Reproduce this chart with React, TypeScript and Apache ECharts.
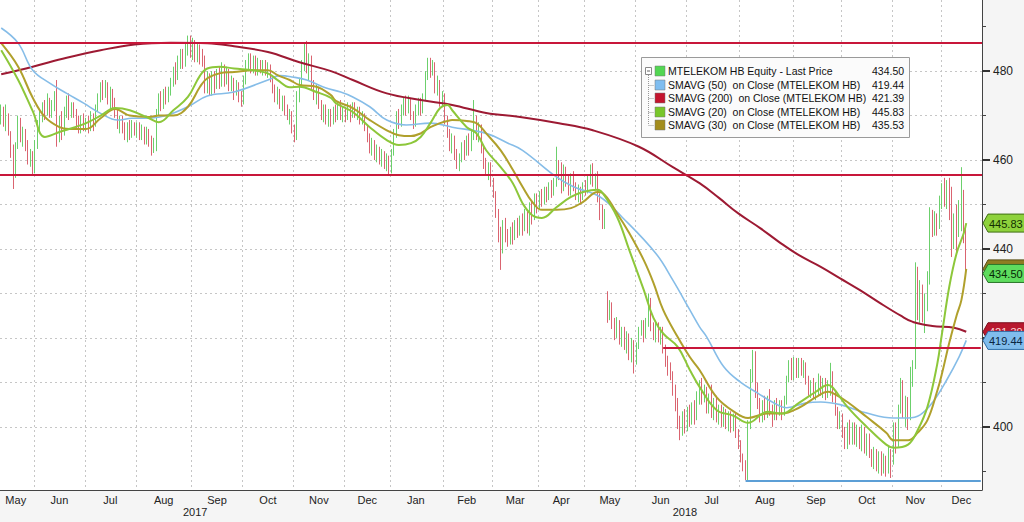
import React, { useEffect, useRef } from "react";
import * as echarts from "echarts";

// ---------- categories (trading days, Budapest exchange) ----------
const firstDay = "2017-05-12";
const lastDay = "2018-12-28";
const holidays = [
  "2017-06-05", "2017-10-23", "2017-11-01", "2017-12-25", "2017-12-26",
  "2018-01-01", "2018-03-15", "2018-03-16", "2018-03-30", "2018-04-02", "2018-04-30",
  "2018-05-01", "2018-05-21", "2018-08-20", "2018-10-22", "2018-10-23", "2018-11-01",
  "2018-11-02", "2018-12-24", "2018-12-25", "2018-12-26",
];
const monthNames = ["Jan", "Feb", "Mar", "Apr", "May", "Jun", "Jul", "Aug", "Sep", "Oct", "Nov", "Dec"];

// ---------- price bars [open, close, low, high] ----------
const bars2017May = [[470,471,468,472.5],[471,469,467.5,472],[468,471.5,466.5,472.5],[470,467,465.5,470.5],[466,462,460.5,466.5],[462,456,453.5,463.5],[457,463,456,464],[463,468.5,462.5,470],[468,465,464,469.5],[465,466,463,467.5],[466,462.5,462,467],[463,460,459,464.5],[460,461,458.5,462.5],[461,457.5,456.6,462]];
const bars2017Jun = [[458,463.5,457,464.5],[463,468,462.5,469],[468,470,466,471],[470,472,468.5,473],[472,470.5,469,473.5],[470.5,473.5,470,475],[473,471,469.5,474],[471,472.5,469.5,473.5],[472.5,474,471,475.5],[474,466,463,478],[466,468.5,464,470],[468.5,466,464.5,471],[466,470.5,465.5,472],[470.5,473.5,469.5,474.5],[473,470,469,475],[470,472,469.5,473],[472,470.5,469.5,473],[470,468,467,471.5],[468,466.5,466,470],[466.5,469,466,470],[469,467.5,466.5,470.5]];
const bars2017Jul = [[467.5,468.5,466.5,469.5],[468.5,467,466,470],[467,469.5,466.5,471],[469.5,468,466.5,470.5],[468,471.5,467.5,472.5],[471.5,474,471,475],[474,476.5,473,477.5],[476.5,475,473.5,478],[475,477,474,478],[477,474,472.5,477.5],[474,475.5,471.5,476.5],[475.5,472.5,471.5,476],[472.5,470,469.5,474],[470,468,467,471.5],[468,469.5,466,470],[469.5,467,466,470],[467,465.5,464.5,468.5],[465.5,467.5,464,468.5],[467.5,466,464.5,469],[466,467.5,465,469],[467.5,466.5,465.5,468.5]];
const bars2017Aug = [[466.5,468,465,468.5],[468,466,464.5,468.5],[466,467,464.5,468],[467,465,463.5,467.5],[465,466.5,463.5,467.5],[466.5,464,463,467],[464,462.5,461,465.5],[462.5,463.5,461.6,465],[463,470.5,462,471.5],[470.5,474,470,475],[474,472.5,471,475.5],[472.5,475,471.5,476],[475,473.5,472.5,476.5],[473.5,475.5,473,476.5],[475.5,477.5,474.5,478.5],[477.5,480,476.5,481],[480,478.5,477,482],[478.5,482,478,483.5],[482,484,480.5,485],[484,481.5,480.5,485],[481.5,485,481,486.5],[485,487,483.5,488],[487,485,483,488]];
const bars2017Sep = [[485,486.5,482.5,487.5],[486.5,483.5,482,487],[483.5,485.5,482,486.5],[485.5,484,481.5,486],[484,482,481,485],[482,476,475,483.5],[476,478.5,475,480],[478.5,475.5,474.5,479.5],[475.5,479,474.5,480],[479,477,475,480],[477,479.5,476,480.5],[479.5,477,476,481],[477,480.5,476.5,482],[480.5,478,476.5,481.5],[478,479.5,477,481],[479.5,476.5,475.5,480.5],[476.5,478,475.5,479],[478,475.5,473.5,478.5],[475.5,477,474.5,478],[477,474,473,477.5],[474,473,472,475.5]];
const bars2017Oct = [[473,478,472.5,479],[478,481,477,482.5],[481,483,480,484],[483,480.5,479.5,484],[480.5,482.5,479.5,483.5],[482.5,480,479,483.5],[480,482,479,483],[482,480,479.5,482.5],[480,481.5,479,482.5],[481.5,479.5,479,482.5],[479.5,481,478.5,482],[481,478,477.5,481.5],[478,476,475,479],[476,474,473,477],[474,475.5,472.5,476.5],[475.5,472.5,471.5,476],[472.5,473.5,471,474.5],[473.5,471,470,474.5],[471,469.5,469,472.5],[469.5,470.5,468,471.5],[470.5,467,466,471]];
const bars2017Nov = [[467,465,464,468],[465,474,464.5,475.5],[474,477.5,473,478.5],[477.5,481,476.5,482.5],[481,485,480,486.5],[485,480,479.5,486.8],[480,482.5,478,484],[482.5,477,476,483.5],[477,474.5,473.5,478],[474.5,476,472.5,477],[476,472.5,471.5,476.5],[472.5,470,469,473.5],[470,471.5,468.5,472.5],[471.5,469,468,472.5],[469,470.5,467.5,471.5],[470.5,468.5,467.5,471.5],[468.5,471,468,472],[471,469.5,468.5,472.5],[469.5,472,469,473],[472,470,469,473.5],[470,471,468.5,472]];
const bars2017Dec = [[471,469.5,468.5,472],[469.5,471.5,469,473],[471.5,470,468.5,472.5],[470,472,469.5,473],[472,470.5,469.5,473],[470.5,471,469,472],[471,469.5,468,472],[469.5,470,468,471],[470,467,466.5,470.5],[467,465,464,468],[465,462.5,461.5,466],[462.5,463.5,461,465],[463.5,461,460,464.5],[461,462.5,459.5,463.5],[462.5,460,459,463],[460,461.5,458.5,462.5],[461.5,459,458,462],[459,460,457.5,461.5],[460,457.5,456.6,461]];
const bars2018Jan = [[457.5,462,457,462.5],[462,466,461,467],[466,470,465,471],[470,468,467,471.5],[468,471.5,467.5,472.5],[471.5,473,470,474],[473,471,470,474.5],[471,473.5,470.5,474.5],[473.5,470,469,474],[470,468,467,471],[468,471.5,467.5,472.5],[471.5,473,470,474],[473,471,470,474],[471,474,470.5,475],[474,479,473.5,480],[479,482,478,483],[482,480,478.5,483],[480,481.5,479,482.5],[481.5,476,475,482],[476,477.5,474.5,479],[477.5,473,472,478],[473,474.5,472,475.5]];
const bars2018Feb = [[474.5,469,468,475],[469,466,465,470],[466,463,462,467],[463,465,461.5,466],[465,461,460,465.5],[461,459,458,462.5],[459,460.5,457.5,461.5],[460.5,463,459.5,464],[463,461.5,460,464.5],[461.5,464.5,461,465.5],[464.5,462.5,461,466],[462.5,466,462,467],[466,468,464.5,473.5],[468,465,464.5,470],[465,467,464,468.5],[467,462,461.5,468],[462,459.5,458,463],[459.5,457,456.5,460.5],[457,458.5,455.5,459.5],[458.5,455,454,459.5]];
const bars2018Mar = [[455,452.5,451.5,456],[452.5,448,447,453],[448,443,441.5,449],[443,440,435.3,445],[440,445,439,446.5],[445,443,441.5,447],[443,441.5,440.5,444.5],[441.5,444,441,445],[444,442.5,441,446],[442.5,445.5,442,446.5],[445.5,443.5,442.5,447],[443.5,446,443,447.5],[446,444.5,443,448],[444.5,447.5,444,449],[447.5,445,443.5,448.5],[445,449,443,450.5],[449,447,445.5,451],[447,451,446.5,452.5],[451,449.5,448,452.5]];
const bars2018Apr = [[449.5,452,449,453],[452,450.5,449.5,453.5],[450.5,453,450,454],[453,451.5,450.5,454],[451.5,454,451,455],[454,452.5,451.5,455.5],[452.5,455,452,456],[455,458,454,463],[458,456.5,455.5,460],[456.5,453.5,452.5,459.5],[453.5,457.5,453,459],[457.5,455,454,458.5],[455,452.5,452,456.5],[452.5,456,452,457],[456,454,453,457.5],[454,451.5,451,455],[451.5,453,450.5,454.5],[453,451.5,450,454],[451.5,454,451,455]];
const bars2018May = [[454,453,452,455.5],[453,455.5,452.5,456.5],[455.5,457.5,454.5,459],[457.5,454.5,454,459.3],[454.5,456,453.5,457],[456,451.5,450.5,457.5],[451.5,448,446.5,452.5],[448,446,444.5,450],[446,447.5,444.5,449],[430,425,423.4,430.5],[425,427.5,424,428.5],[427.5,423,422,428],[423,421,419.5,424.5],[421,423.5,420,424.7],[423.5,420,418.5,424],[420,421.5,418,422.5],[421.5,418.5,417.3,422.5],[418.5,420.5,416.5,421.5],[420.5,417,415,421],[417,419,414.5,420],[419,415,412,419.5]];
const bars2018Jun = [[415,418,414,419],[418,421.5,417.5,422.5],[421.5,423,420.5,424],[423,420.5,419,424],[420.5,423.5,420,424.5],[423.5,428,422.5,430],[428,423,421.5,429],[423,421,419.5,423.5],[421,422.5,419,423.5],[422.5,420,419,423.5],[420,421.5,418.5,422.5],[421.5,417.5,416.5,422.5],[417.5,415,413.5,418.5],[415,413,411.5,416],[413,411.5,410.5,414.5],[411.5,408,407,412.5],[408,405,403.5,409.5],[405,401,399.5,406.5],[401,398.5,397,402.5],[398.5,402,398,403.5],[402,399.5,398.5,404]];
const bars2018Jul = [[399.5,403,399,404.5],[403,401,400,405],[401,404.5,400.5,405.5],[404.5,402,400.5,406],[402,406,401.5,408],[406,409.5,405,410.5],[409.5,406.5,405,411],[406.5,408,405.5,409.5],[408,404,403,409],[404,406.5,403,407.5],[406.5,403,402,409.5],[403,405.5,401.5,406.5],[405.5,402,401,407],[402,404,400.5,405],[404,401.5,400,405],[401.5,403,400,404.5],[403,400.5,399.5,404],[400.5,402.5,399,403.5],[402.5,400,398.7,403.5],[400,402,399,403],[402,398.5,397.5,403],[398.5,396,395,399.5]];
const bars2018Aug = [[396,393,392,397],[393,391,390,394],[391,389.5,388,392.5],[389.5,400,388,401.5],[400,412,399.5,413],[412,415.5,410,417.3],[415.5,409,406.5,417],[409,405,404,410],[405,402,401,406.5],[402,405,401,406],[405,403,401.5,407],[403,406,402,407],[406,404,402.5,408.5],[404,402.5,400,405],[402.5,405,401.5,406],[405,403,401.5,406.5],[403,405,402.5,406],[405,403.5,401.5,406],[403.5,405.5,402.5,407],[405.5,410.5,405,411.5],[410.5,413.5,410,415],[413.5,411.5,410.5,415.5]];
const bars2018Sep = [[411.5,414,410.5,415.7],[414,412,411,415.5],[412,414.5,411,415.5],[414.5,412.5,411.5,415.5],[412.5,414,411,415],[414,410.5,409.5,414.5],[410.5,408,407,411.5],[408,409.5,406.5,410.5],[409.5,407,406.5,411],[407,409,406,410],[409,410.5,407,412],[410.5,408,407,411.5],[408,410,406.5,411],[410,407.5,406,411],[407.5,409.5,406.5,410.5],[409.5,411.5,407,414.4],[411.5,407,405.5,412.5],[407,403.5,402.5,408],[403.5,401,399.5,404.5],[401,402.5,399.5,403.5]];
const bars2018Oct = [[402.5,398.5,397.5,403],[398.5,396.5,395,400],[396.5,399.5,395,401],[399.5,397,396,401.6],[397,400,396,401],[400,397.5,396,401],[397.5,399,395.5,400.5],[399,396.5,395,400],[396.5,399,394.5,400.5],[399,395.5,394,400],[395.5,397.5,393.5,398.5],[397.5,394,393,398.5],[394,392,391,395],[392,394,390.5,395.5],[394,391.5,390,395],[391.5,393.5,389.5,394.5],[393.5,390.5,389,394.5],[390.5,393,389.5,394],[393,390,388.8,393.5],[390,394,389.5,395.5],[394,392,388.5,395]];
const bars2018Nov = [[392,399,391.5,401],[399,396,394,401],[396,404,395.5,405],[404,409.5,403,411],[409.5,403,402,410.5],[403,406,400,407],[406,402,399.3,406.7],[402,410,401.5,413.5],[410,414,409,415],[414,434,413,437],[434,426,424,436],[426,431,423.4,433],[431,425,423.5,432],[425,428.5,421.1,430],[428.5,433,426,435],[433,447,432,449.4],[447,444,442.7,448.8],[444,447,443,448.5],[447,445,443,448],[445,450,444.5,452]];
const bars2018Dec = [[450,453.5,449,454.8],[453.5,451,449.5,456],[451,454,449,455.5],[454,450.5,446.5,456],[450.5,441,438.2,454],[441,446,440,448],[446,443,439,450],[443,449,442.7,451],[449,451,444,458.4],[451,444,441.3,453.3],[444,434.5,434,445]];

// ---------- moving averages, read as [trading-day index, value] ----------
const sma200 = [[0,479.3],[13,481],[27,483],[41,484.7],[55,486],[70,486.4],[85,486.3],[96,485.6],[110,484.3],[123,482],[136,480],[145,478],[159,475],[173,473.5],[186,472.4],[200,470.6],[214,469.7],[230,468.3],[244,466.7],[263,463],[277,458.4],[288,454.8],[296,451.5],[304,448],[313,444.7],[321,441.5],[329,438.6],[338,436],[346,433.4],[354,430.8],[362,428],[371,425],[376,423.6],[384,422.7],[393,422.3],[398,421.39]];
const sma50 = [[0,489.7],[7,486.3],[13,480.2],[20,477.3],[27,475],[34,472.8],[41,470.5],[48,469],[54,469.4],[61,469.4],[68,470],[77,472],[85,474.4],[96,475.3],[110,478],[115,479],[120,478.7],[126,478],[134,476.2],[140,475.3],[145,474.2],[152,472],[159,469],[167,467.9],[177,468.3],[186,467.4],[200,466],[209,463.8],[215,462.2],[229,456.2],[236,454],[247,451.7],[256,447.2],[270,439],[277,433],[284,426.3],[288,422.5],[291,420.2],[298,413.5],[305,410],[312,407.6],[318,405.6],[324,404.3],[332,405.4],[338,405.6],[346,405],[357,403.1],[368,402],[374,402],[379,402.7],[384,405.4],[390,410.6],[395,415.7],[398,419.44]];
const sma20 = [[0,484.7],[7,478],[13,471],[18,465.2],[24,466.3],[28,467],[35,468.3],[41,470],[47,471.7],[53,471.2],[61,469.4],[65,468.5],[71,471.2],[77,474.2],[82,479],[85,480.6],[90,481],[96,480.6],[104,480.2],[110,479.5],[114,478],[119,476.4],[123,476.5],[130,475.3],[136,474],[138,472.8],[145,470.8],[152,467.4],[159,464.5],[164,463.4],[169,463.8],[173,465.2],[177,468.3],[181,471.7],[184,472.4],[186,471.2],[192,467.4],[196,466],[200,462.2],[206,458.4],[211,454.8],[215,450.3],[219,447.6],[223,447],[229,449.4],[235,451.7],[240,452.8],[246,453.3],[248,452.6],[254,447.2],[259,439.8],[265,430.8],[269,424.5],[273,421],[279,418],[284,412.8],[288,409],[295,403.8],[302,402.5],[308,400.9],[316,403.4],[322,403],[329,405.4],[336,407.9],[341,409.4],[343,408.8],[349,404.5],[357,400],[365,396],[368,395.3],[374,396],[378,399.3],[382,404.5],[386,414],[388,421],[391,431.5],[394,439],[397,443.6],[398,445.83]];
const sma30 = [[0,486.3],[7,481],[13,474],[18,469.7],[24,467.4],[28,467],[35,467],[41,469.4],[47,471.5],[53,470],[61,469.7],[65,470],[71,470],[77,472],[82,476.5],[85,478.4],[90,479.5],[96,479.8],[104,480.2],[110,480.2],[114,479.1],[119,478],[123,476.9],[130,476.5],[136,474.6],[138,473.3],[145,471.7],[152,469],[159,466.7],[164,465.6],[169,465.4],[173,466],[177,467.4],[181,468.3],[184,468.8],[186,469],[192,468.8],[196,468.3],[200,466],[206,462.2],[211,457.8],[215,454],[219,450.6],[223,448.8],[229,448.8],[235,449.2],[240,450.6],[246,452.8],[248,452.6],[254,448],[259,443.6],[265,437.5],[269,432.4],[273,426.3],[279,420.2],[284,415.7],[288,412.8],[295,406.7],[302,403.5],[308,402],[316,403],[322,403],[329,404.3],[336,406.7],[341,407.9],[343,407.6],[349,405.6],[357,402.2],[365,398.7],[368,397],[374,397],[378,398.7],[382,401.5],[386,408],[388,412],[391,418.9],[394,425],[396,428.5],[398,435.53]];

// ---------- reference levels ----------
const resistanceHigh = 486.3;
const resistanceMid = 456.6;
const supportLevel = 417.8;
const supportStartDay = "2018-06-18";
const floorLevel = 387.9;
const floorStartDay = "2018-08-03";

const legendNames = [
  "MTELEKOM HB Equity - Last Price",
  "SMAVG (50)  on Close (MTELEKOM HB)",
  "SMAVG (200)  on Close (MTELEKOM HB)",
  "SMAVG (20)  on Close (MTELEKOM HB)",
  "SMAVG (30)  on Close (MTELEKOM HB)",
];
const yLabelValues = [400, 420, 440, 460, 480];
const yMinorValues = [390, 400, 410, 420, 430, 440, 450, 460, 470, 480, 490];

const C = {
  up: "#6cd06c",
  down: "#da6470",
  sma50: "#86bde8",
  sma200: "#9d1a33",
  sma20: "#8dc73a",
  sma30: "#b0a02c",
  level: "#c8173a",
  floor: "#5c9fd6",
  grid: "#c6c6c6",
};

function buildDays(): string[] {
  const out: string[] = [];
  const d = new Date(firstDay + "T00:00:00Z");
  const end = new Date(lastDay + "T00:00:00Z").getTime();
  while (d.getTime() <= end) {
    const wd = d.getUTCDay();
    const s = d.toISOString().slice(0, 10);
    if (wd !== 0 && wd !== 6 && holidays.indexOf(s) < 0) out.push(s);
    d.setUTCDate(d.getUTCDate() + 1);
  }
  return out;
}

export default function App() {
  const ref = useRef<HTMLDivElement>(null);
  useEffect(() => {
    if (!ref.current) return;
    const chart = echarts.init(ref.current, undefined, { renderer: "svg" });
    const days = buildDays();
    const bars = [
      ...bars2017May, ...bars2017Jun, ...bars2017Jul, ...bars2017Aug, ...bars2017Sep,
      ...bars2017Oct, ...bars2017Nov, ...bars2017Dec, ...bars2018Jan, ...bars2018Feb,
      ...bars2018Mar, ...bars2018Apr, ...bars2018May, ...bars2018Jun, ...bars2018Jul,
      ...bars2018Aug, ...bars2018Sep, ...bars2018Oct, ...bars2018Nov, ...bars2018Dec,
    ];
    const lastIdx = days.length - 1;

    // month / year groupings
    const monthStart = new Set<number>();
    const monthMid = new Set<number>();
    const yearMid = new Set<number>();
    const yearStart = new Set<number>();
    const groupBy = (len: number, starts: Set<number>, mids: Set<number>) => {
      let s = 0;
      for (let i = 1; i <= days.length; i++) {
        if (i === days.length || days[i].slice(0, len) !== days[i - 1].slice(0, len)) {
          mids.add(Math.floor((s + i - 1) / 2));
          if (i < days.length) starts.add(i);
          s = i;
        }
      }
    };
    groupBy(7, monthStart, monthMid);
    groupBy(4, yearStart, yearMid);

    const supportStart = days.indexOf(supportStartDay);
    const floorStart = days.indexOf(floorStartDay);

    const option: any = {
      animation: false,
      backgroundColor: "#f5f5f5",
      textStyle: { fontFamily: "Liberation Sans, Arial, sans-serif" },
      grid: { left: 0, right: 42, top: 0, bottom: 32, show: true, backgroundColor: "#ffffff", borderWidth: 0 },
      xAxis: [
        {
          type: "category",
          data: days,
          boundaryGap: true,
          axisLine: { lineStyle: { color: "#444", width: 1 } },
          axisTick: { interval: (i: number) => monthStart.has(i), length: 4, lineStyle: { color: "#555" } },
          axisLabel: {
            interval: (i: number) => monthMid.has(i),
            formatter: (v: string) => monthNames[Number(v.slice(5, 7)) - 1],
            margin: 4,
            fontSize: 11,
            color: "#222",
          },
          splitLine: { show: true, interval: (i: number) => monthStart.has(i), lineStyle: { color: C.grid, type: [2, 3] } },
        },
        {
          type: "category",
          data: days,
          position: "bottom",
          offset: 13,
          axisLine: { show: false },
          axisTick: { interval: (i: number) => yearStart.has(i), length: 16, lineStyle: { color: "#777" } },
          axisLabel: {
            interval: (i: number) => yearMid.has(i),
            formatter: (v: string) => v.slice(0, 4),
            margin: 3,
            fontSize: 11,
            color: "#222",
          },
          splitLine: { show: false },
        },
      ],
      yAxis: [
        {
          type: "value",
          position: "right",
          min: 385.8,
          max: 496,
          axisLine: { show: true, lineStyle: { color: "#444" } },
          axisTick: { show: true, customValues: yMinorValues, length: 4, lineStyle: { color: "#444" } },
          axisLabel: { customValues: yLabelValues, margin: 11, fontSize: 12, color: "#222" },
          splitLine: { show: true, showMinLine: false, showMaxLine: false, lineStyle: { color: C.grid, type: [2, 3] } },
        },
        {
          type: "value",
          position: "right",
          min: 385.8,
          max: 496,
          axisLine: { show: false },
          axisTick: { show: true, customValues: yLabelValues, length: 8, lineStyle: { color: "#333", width: 2 } },
          axisLabel: { show: false },
          splitLine: { show: false },
        },
      ],
      series: [
        {
          name: "Last Price",
          type: "candlestick",
          data: bars,
          barWidth: 1,
          itemStyle: { color: C.up, color0: C.down, borderColor: C.up, borderColor0: C.down, borderWidth: 1 },
          z: 2,
        },
        {
          name: "SMAVG (200)", type: "line", data: sma200, smooth: 0.4, showSymbol: false,
          lineStyle: { color: C.sma200, width: 2 }, z: 3,
          markLine: {
            silent: true,
            symbol: ["none", "none"],
            label: { show: false },
            lineStyle: { color: C.level, width: 2, type: "solid" },
            data: [
              { yAxis: resistanceHigh },
              { yAxis: resistanceMid },
              [{ coord: [supportStart, supportLevel] }, { coord: [lastIdx, supportLevel] }],
              [{ coord: [floorStart, floorLevel], lineStyle: { color: C.floor, width: 2, type: "solid" } }, { coord: [lastIdx, floorLevel] }],
            ],
          },
        },
        { name: "SMAVG (50)", type: "line", data: sma50, smooth: 0.4, showSymbol: false, lineStyle: { color: C.sma50, width: 1.6 }, z: 3 },
        { name: "SMAVG (30)", type: "line", data: sma30, smooth: 0.4, showSymbol: false, lineStyle: { color: C.sma30, width: 2 }, z: 3 },
        { name: "SMAVG (20)", type: "line", data: sma20, smooth: 0.4, showSymbol: false, lineStyle: { color: C.sma20, width: 2 }, z: 3 },
      ],
    };
    chart.setOption(option);

    const lastPrice = bars[bars.length - 1][1];
    const last50 = sma50[sma50.length - 1][1];
    const last200 = sma200[sma200.length - 1][1];
    const last20 = sma20[sma20.length - 1][1];
    const last30 = sma30[sma30.length - 1][1];
    const legendValues = [lastPrice, last50, last200, last20, last30];
    const legendColors = ["#52d652", "#7fbdf0", "#c4142e", "#78c62a", "#a38c1c"];

    const g: any[] = [];
    // legend box
    const lx = 641, ly = 57, lw = 268, lh = 80;
    g.push({ type: "rect", shape: { x: lx + 0.5, y: ly + 0.5, width: lw, height: lh }, style: { fill: "#fbfbfb", stroke: "#9a9a9a", lineWidth: 1 }, z: 50 });
    const rowY = [71, 85, 98, 112, 125];
    g.push({ type: "rect", shape: { x: 645.5, y: 67.5, width: 6, height: 7 }, style: { fill: "#fff", stroke: "#888", lineWidth: 1 }, z: 51 });
    g.push({ type: "line", shape: { x1: 647, y1: 71, x2: 650, y2: 71 }, style: { stroke: "#666", lineWidth: 1 }, z: 52 });
    g.push({ type: "line", shape: { x1: 648.5, y1: 75, x2: 648.5, y2: 125 }, style: { stroke: "#999", lineWidth: 1, lineDash: [1, 1] }, z: 51 });
    rowY.forEach((y, k) => {
      if (k > 0) g.push({ type: "line", shape: { x1: 648.5, y1: y + 0.5, x2: 654, y2: y + 0.5 }, style: { stroke: "#999", lineWidth: 1, lineDash: [1, 1] }, z: 51 });
      g.push({ type: "rect", shape: { x: 655, y: y - 5, width: 10, height: 10 }, style: { fill: legendColors[k], stroke: "#777", lineWidth: 0.5 }, z: 51 });
      g.push({ type: "text", x: 668, y: y, style: { text: legendNames[k], fontSize: 10.5, fontFamily: "Liberation Sans", fill: "#111", verticalAlign: "middle", align: "left" }, z: 52 });
      g.push({ type: "text", x: 872, y: y, style: { text: legendValues[k].toFixed(2), fontSize: 10.5, fontFamily: "Liberation Sans", fill: "#111", verticalAlign: "middle", align: "left" }, z: 52 });
    });

    // last-value tags on the price axis
    const tags = [
      { v: last20, fill: "#8ed23c", stroke: "#3f6e12", text: "#133000" },
      { v: last30, fill: "#8e7d22", stroke: "#5a4f12", text: "#ffffff" },
      { v: lastPrice, fill: "#5edc5e", stroke: "#2a772a", text: "#062906" },
      { v: last200, fill: "#b8182e", stroke: "#7a0e1c", text: "#ffd6d6" },
      { v: last50, fill: "#80bcec", stroke: "#2f6ea8", text: "#0a2540" },
    ];
    tags.forEach((t, k) => {
      const y = chart.convertToPixel({ yAxisIndex: 0 }, t.v) as number;
      g.push({
        type: "polygon",
        shape: { points: [[983, y], [988, y - 9], [1030, y - 9], [1030, y + 9], [988, y + 9]] },
        style: { fill: t.fill, stroke: t.stroke, lineWidth: 1 },
        z: 100 + k * 2,
      });
      g.push({
        type: "text", x: 989, y: y + 0.5,
        style: { text: t.v.toFixed(2), fontSize: 11, fontFamily: "Liberation Sans", fill: t.text, verticalAlign: "middle", align: "left" },
        z: 101 + k * 2,
      });
    });
    chart.setOption({ graphic: g });

    return () => chart.dispose();
  }, []);
  return <div ref={ref} style={{ position: "fixed", left: 0, top: 0, width: 1024, height: 522 }} />;
}
